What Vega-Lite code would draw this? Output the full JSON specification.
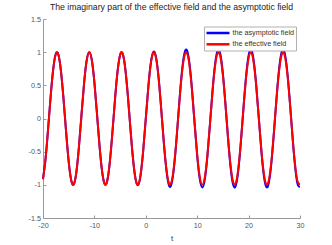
{
  "$schema": "https://vega.github.io/schema/vega-lite/v6.json",
  "width": 257,
  "height": 199,
  "autosize": {"type": "none"},
  "padding": {"left": 43, "top": 19, "right": 32, "bottom": 27},
  "background": "white",
  "title": {
    "text": "The imaginary part of the effective field and the asymptotic field",
    "font": "Liberation Sans",
    "fontSize": 8.7,
    "fontWeight": "normal",
    "color": "#222222",
    "anchor": "middle",
    "offset": 3
  },
  "config": {
    "view": {"stroke": null},
    "axis": {
      "labelFont": "Liberation Sans",
      "labelFontSize": 7.2,
      "labelColor": "#555555",
      "labelFlush": false,
      "titleFont": "Liberation Sans",
      "titleFontSize": 8,
      "titleFontWeight": "normal",
      "titleColor": "#333333",
      "domainColor": "#999999",
      "domainWidth": 1,
      "tickColor": "#999999",
      "tickSize": -3,
      "grid": false
    }
  },
  "data": {
    "values": [
      {"t": -20, "a": -0.9129, "e": -0.9129},
      {"t": -19.5, "a": -0.6055, "e": -0.6055},
      {"t": -19, "a": -0.1499, "e": -0.1499},
      {"t": -18.5, "a": 0.3425, "e": 0.3425},
      {"t": -18, "a": 0.751, "e": 0.751},
      {"t": -17.5, "a": 0.9756, "e": 0.9756},
      {"t": -17, "a": 0.9614, "e": 0.9614},
      {"t": -16.5, "a": 0.7117, "e": 0.7117},
      {"t": -16, "a": 0.2879, "e": 0.2879},
      {"t": -15.5, "a": -0.2065, "e": -0.2065},
      {"t": -15, "a": -0.6503, "e": -0.6503},
      {"t": -14.5, "a": -0.9349, "e": -0.9349},
      {"t": -14, "a": -0.9906, "e": -0.9906},
      {"t": -13.5, "a": -0.8038, "e": -0.8038},
      {"t": -13, "a": -0.4202, "e": -0.4202},
      {"t": -12.5, "a": 0.0663, "e": 0.0663},
      {"t": -12, "a": 0.5366, "e": 0.5366},
      {"t": -11.5, "a": 0.8755, "e": 0.8755},
      {"t": -11, "a": 1.0, "e": 1.0},
      {"t": -10.5, "a": 0.8797, "e": 0.8797},
      {"t": -10, "a": 0.544, "e": 0.544},
      {"t": -9.5, "a": 0.0751, "e": 0.0751},
      {"t": -9, "a": -0.4121, "e": -0.4121},
      {"t": -8.5, "a": -0.7985, "e": -0.7985},
      {"t": -8, "a": -0.9894, "e": -0.9894},
      {"t": -7.5, "a": -0.938, "e": -0.938},
      {"t": -7, "a": -0.657, "e": -0.657},
      {"t": -6.5, "a": -0.2151, "e": -0.2151},
      {"t": -6, "a": 0.2794, "e": 0.2794},
      {"t": -5.5, "a": 0.7055, "e": 0.7055},
      {"t": -5, "a": 0.9589, "e": 0.9589},
      {"t": -4.5, "a": 0.9775, "e": 0.9775},
      {"t": -4, "a": 0.7568, "e": 0.7568},
      {"t": -3.5, "a": 0.3508, "e": 0.3508},
      {"t": -3, "a": -0.1411, "e": -0.1411},
      {"t": -2.5, "a": -0.5985, "e": -0.5985},
      {"t": -2, "a": -0.9093, "e": -0.9093},
      {"t": -1.5, "a": -1.0025, "e": -0.9975},
      {"t": -1, "a": -0.8457, "e": -0.8415},
      {"t": -0.5, "a": -0.4818, "e": -0.4794},
      {"t": 0, "a": 0, "e": 0},
      {"t": 0.5, "a": 0.4842, "e": 0.4794},
      {"t": 1, "a": 0.8499, "e": 0.8415},
      {"t": 1.5, "a": 1.0075, "e": 0.9975},
      {"t": 2, "a": 0.9184, "e": 0.9093},
      {"t": 2.5, "a": 0.6105, "e": 0.5985},
      {"t": 3, "a": 0.1439, "e": 0.1411},
      {"t": 3.5, "a": -0.3578, "e": -0.3508},
      {"t": 4, "a": -0.7719, "e": -0.7568},
      {"t": 4.5, "a": -1.0068, "e": -0.9775},
      {"t": 5, "a": -0.9877, "e": -0.9589},
      {"t": 5.5, "a": -0.7267, "e": -0.7055},
      {"t": 6, "a": -0.2878, "e": -0.2794},
      {"t": 6.5, "a": 0.2237, "e": 0.2151},
      {"t": 7, "a": 0.6833, "e": 0.657},
      {"t": 7.5, "a": 0.9755, "e": 0.938},
      {"t": 8, "a": 1.029, "e": 0.9894},
      {"t": 8.5, "a": 0.8304, "e": 0.7985},
      {"t": 9, "a": 0.4286, "e": 0.4121},
      {"t": 9.5, "a": -0.0781, "e": -0.0751},
      {"t": 10, "a": -0.5658, "e": -0.544},
      {"t": 10.5, "a": -0.9149, "e": -0.8797},
      {"t": 11, "a": -1.04, "e": -1.0},
      {"t": 11.5, "a": -0.9105, "e": -0.8755},
      {"t": 12, "a": -0.5581, "e": -0.5366},
      {"t": 12.5, "a": -0.069, "e": -0.0663},
      {"t": 13, "a": 0.437, "e": 0.4202},
      {"t": 13.5, "a": 0.836, "e": 0.8038},
      {"t": 14, "a": 1.0302, "e": 0.9906},
      {"t": 14.5, "a": 0.9723, "e": 0.9349},
      {"t": 15, "a": 0.6763, "e": 0.6503},
      {"t": 15.5, "a": 0.2148, "e": 0.2065},
      {"t": 16, "a": -0.2994, "e": -0.2879},
      {"t": 16.5, "a": -0.7402, "e": -0.7117},
      {"t": 17, "a": -0.9999, "e": -0.9614},
      {"t": 17.5, "a": -1.0146, "e": -0.9756},
      {"t": 18, "a": -0.781, "e": -0.751},
      {"t": 18.5, "a": -0.3562, "e": -0.3425},
      {"t": 19, "a": 0.1559, "e": 0.1499},
      {"t": 19.5, "a": 0.6297, "e": 0.6055},
      {"t": 20, "a": 0.9494, "e": 0.9129},
      {"t": 20.5, "a": 1.0367, "e": 0.9968},
      {"t": 21, "a": 0.8702, "e": 0.8367},
      {"t": 21.5, "a": 0.4906, "e": 0.4717},
      {"t": 22, "a": -0.0093, "e": -0.0089},
      {"t": 22.5, "a": -0.5067, "e": -0.4872},
      {"t": 23, "a": -0.88, "e": -0.8462},
      {"t": 23.5, "a": -1.038, "e": -0.9981},
      {"t": 24, "a": -0.9418, "e": -0.9056},
      {"t": 24.5, "a": -0.6152, "e": -0.5915},
      {"t": 25, "a": -0.1377, "e": -0.1324},
      {"t": 25.5, "a": 0.3735, "e": 0.3591},
      {"t": 26, "a": 0.7932, "e": 0.7627},
      {"t": 26.5, "a": 1.0186, "e": 0.9794},
      {"t": 27, "a": 0.9947, "e": 0.9564},
      {"t": 27.5, "a": 0.7272, "e": 0.6992},
      {"t": 28, "a": 0.2817, "e": 0.2709},
      {"t": 28.5, "a": -0.2328, "e": -0.2238},
      {"t": 29, "a": -0.6901, "e": -0.6636},
      {"t": 29.5, "a": -0.9785, "e": -0.9409},
      {"t": 30, "a": -1.0275, "e": -0.988}
    ]
  },
  "transform": [{"fold": ["a", "e"], "as": ["k", "v"]}],
  "encoding": {
    "x": {
      "field": "t",
      "type": "quantitative",
      "scale": {"domain": [-20, 30], "nice": false, "zero": false},
      "axis": {
        "title": "t",
        "values": [-20, -10, 0, 10, 20, 30],
        "labelExpr": "'' + datum.value",
        "labelFlush": false,
        "labelPadding": 6,
        "titlePadding": 6
      }
    },
    "y": {
      "field": "v",
      "type": "quantitative",
      "scale": {"domain": [-1.5, 1.5], "nice": false, "zero": false},
      "axis": {
        "title": null,
        "values": [-1.5, -1, -0.5, 0, 0.5, 1, 1.5],
        "labelExpr": "'' + datum.value",
        "labelFlush": false,
        "labelPadding": 5.5
      }
    },
    "color": {
      "field": "k",
      "type": "nominal",
      "scale": {"domain": ["a", "e"], "range": ["#0000ff", "#ff0000"]},
      "legend": {
        "title": null,
        "orient": "none",
        "legendX": 161,
        "legendY": 7.5,
        "direction": "vertical",
        "labelExpr": "datum.label == 'a' ? 'the asymptotic field' : 'the effective field'",
        "labelFont": "Liberation Sans",
        "labelFontSize": 7.2,
        "labelColor": "#333333",
        "labelOffset": 16.5,
        "symbolType": "M-1,0H4.75",
        "symbolSize": 64,
        "symbolStrokeWidth": 2.5,
        "rowPadding": 0.3,
        "padding": 1,
        "strokeColor": "#b0b0b0",
        "fillColor": "white"
      }
    }
  },
  "layer": [
    {
      "transform": [{"filter": "datum.k == 'a'"}],
      "mark": {"type": "line", "strokeWidth": 2, "interpolate": "natural"}
    },
    {
      "transform": [{"filter": "datum.k == 'e'"}],
      "mark": {"type": "line", "strokeWidth": 2, "interpolate": "natural"}
    }
  ]
}
